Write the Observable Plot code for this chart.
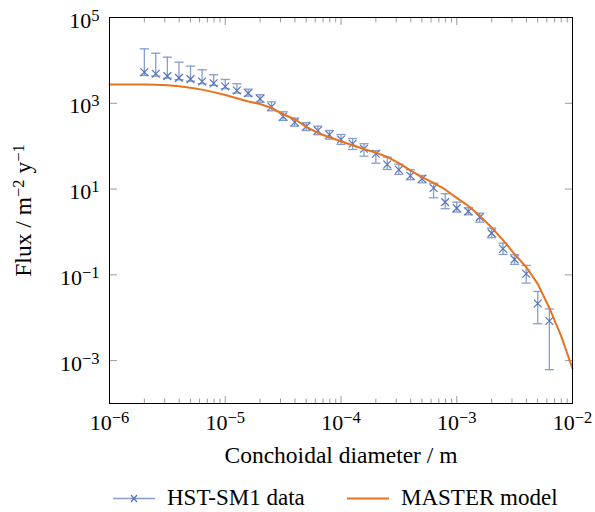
<!DOCTYPE html>
<html>
<head>
<meta charset="utf-8">
<script src="https://cdn.jsdelivr.net/npm/d3@7"></script>
<script src="https://cdn.jsdelivr.net/npm/@observablehq/plot@0.6"></script>
<style>
  body { margin: 0; background: #fff; font-family: "Liberation Serif", serif; }
  #chart { width: 595px; }
  #legend { position: relative; width: 595px; height: 42px; font-size: 23px; color: #000; }
  .lg-item { position: absolute; top: 0; height: 42px; }
  .lg-text { position: absolute; top: 16px; line-height: 23px; white-space: nowrap; }
</style>
</head>
<body>
<div id="chart"></div>
<div id="legend"></div>
<script>
// ---- Data: HST-SM1 measurements ----
const diameters = [2.00e-6, 2.51e-6, 3.16e-6, 3.98e-6, 5.01e-6, 6.31e-6, 7.94e-6,
  1.00e-5, 1.26e-5, 1.58e-5, 2.00e-5, 2.51e-5, 3.16e-5, 3.98e-5, 5.01e-5, 6.31e-5, 7.94e-5,
  1.00e-4, 1.26e-4, 1.58e-4, 2.00e-4, 2.51e-4, 3.16e-4, 3.98e-4, 5.01e-4, 6.31e-4, 7.94e-4,
  1.00e-3, 1.26e-3, 1.58e-3, 2.00e-3, 2.51e-3, 3.16e-3, 3.98e-3, 5.01e-3, 6.31e-3];
const flux = [5310, 4880, 4290, 3910, 3650, 3220, 2940,
  2470, 1990, 1720, 1270, 828, 492, 362, 288, 232, 185,
  143, 114, 86.9, 66.5, 37.4, 28.2, 20.4, 17.4, 10.6, 4.95,
  3.59, 3.01, 2.21, 0.938, 0.406, 0.229, 0.106, 0.0215, 0.00841];
const fluxUpper = [18600, 14700, 11900, 9080, 7330, 6040, 4610,
  3590, 2850, 2130, 1580, 1080, 634, 450, 351, 292, 232,
  187, 151, 114, 78.2, 55.5, 38.0, 28.2, 20.7, 13.7, 7.76,
  4.95, 3.66, 2.74, 1.23, 0.548, 0.294, 0.166, 0.0410, 0.0160];
const fluxLower = [4450, 4290, 3850, 3530, 3270, 2850, 2600,
  2180, 1720, 1470, 1060, 668, 397, 292, 232, 185, 146,
  110, 83.8, 58.5, 40.2, 28.6, 21.9, 16.5, 14.0, 6.27, 3.48,
  2.90, 2.52, 1.69, 0.733, 0.299, 0.175, 0.0641, 0.00724, 0.000614];

// ---- Data: MASTER model ----
const modelDiameters = [1.00e-6, 1.26e-6, 1.58e-6, 2.00e-6, 2.51e-6, 3.16e-6, 3.98e-6, 5.01e-6, 6.31e-6, 7.94e-6,
  1.00e-5, 1.26e-5, 1.58e-5, 2.00e-5, 2.51e-5, 3.16e-5, 3.98e-5, 5.01e-5, 6.31e-5, 7.94e-5,
  1.00e-4, 1.26e-4, 1.58e-4, 2.00e-4, 2.51e-4, 3.16e-4, 3.98e-4, 5.01e-4, 6.31e-4, 7.94e-4,
  1.00e-3, 1.26e-3, 1.58e-3, 2.00e-3, 2.51e-3, 3.16e-3, 3.98e-3, 5.01e-3, 6.31e-3, 7.94e-3, 1.00e-2];
const modelFlux = [2740, 2740, 2740, 2740, 2720, 2630, 2490, 2300, 2080, 1820,
  1560, 1310, 1100, 964, 776, 555, 424, 281, 203, 161,
  130, 105, 86.1, 70.5, 56.0, 40.4, 27.2, 18.9, 13.9, 9.79,
  6.21, 4.04, 2.39, 1.27, 0.644, 0.305, 0.152, 0.0617, 0.0169, 0.00389, 0.000655];

// ---- Ticks ----
const xTickValues = [1e-6, 1e-5, 1e-4, 1e-3, 1e-2];
const xTickLabels = ["10^−6", "10^−5", "10^−4", "10^−3", "10^−2"];
const yTickValues = [1e-3, 1e-1, 1e1, 1e3, 1e5];
const yTickLabels = ["10^−3", "10^−1", "10^1", "10^3", "10^5"];
const xMinorTicks = [];
for (const dec of [1e-6, 1e-5, 1e-4, 1e-3]) for (const m of [2,3,4,5,6,7,8,9]) xMinorTicks.push(m * dec);

const seriesLabels = ["HST-SM1 data", "MASTER model"];
const xLabel = "Conchoidal diameter / m";
const yLabel = "Flux / m^−2 y^−1";

const blueMark = "#5672b9";
const blueBar = "#859dd0";
const orange = "#e8731f";
const tickGrey = "#9a9a9a";

const data = diameters.map((d, i) => ({d, f: flux[i], hi: fluxUpper[i], lo: fluxLower[i]}));
const model = modelDiameters.map((d, i) => ({d, f: modelFlux[i]}));

const capSymbol = {
  draw(ctx, size) { const r = Math.sqrt(size / Math.PI); ctx.moveTo(-r, 0); ctx.lineTo(r, 0); }
};

const xFmt = (v) => xTickLabels[xTickValues.findIndex(t => Math.abs(Math.log10(t) - Math.log10(v)) < 1e-6)];
const yFmt = (v) => yTickLabels[yTickValues.findIndex(t => Math.abs(Math.log10(t) - Math.log10(v)) < 1e-6)];
const blank = () => "";

const plot = Plot.plot({
  width: 595,
  height: 470,
  marginLeft: 109,
  marginRight: 23,
  marginTop: 17,
  marginBottom: 67,
  style: {fontFamily: "'Liberation Serif', serif", fontSize: "22px", background: "white", color: "black"},
  x: {type: "log", domain: [1e-6, 1e-2]},
  y: {type: "log", domain: [1e-4, 1e5]},
  marks: [
    // ticks (inward)
    Plot.axisX({anchor: "bottom", ticks: xTickValues, tickSize: -7, stroke: tickGrey, tickFormat: blank, label: null}),
    Plot.axisX({anchor: "bottom", ticks: xMinorTicks, tickSize: -4.5, stroke: tickGrey, tickFormat: blank, label: null}),
    Plot.axisX({anchor: "top", ticks: xTickValues, tickSize: -7, stroke: tickGrey, tickFormat: blank, label: null}),
    Plot.axisX({anchor: "top", ticks: xMinorTicks, tickSize: -4.5, stroke: tickGrey, tickFormat: blank, label: null}),
    Plot.axisY({anchor: "left", ticks: yTickValues, tickSize: -8, stroke: tickGrey, tickFormat: blank, label: null}),
    Plot.axisY({anchor: "right", ticks: yTickValues, tickSize: -8, stroke: tickGrey, tickFormat: blank, label: null}),
    // labels
    Plot.axisX({anchor: "bottom", ticks: xTickValues, tickSize: 0, tickPadding: 11, tickFormat: xFmt, fontSize: 22,
      label: xLabel, labelAnchor: "center", labelOffset: 59, labelArrow: false}),
    Plot.axisY({anchor: "left", ticks: yTickValues, tickSize: 0, tickPadding: 10, tickFormat: yFmt, dy: 3, fontSize: 22,
      label: yLabel, labelAnchor: "center", labelOffset: 95, labelArrow: false}),
    // data error bars
    Plot.ruleX(data, {x: "d", y1: "lo", y2: "hi", stroke: blueBar, strokeWidth: 1.3}),
    Plot.dot(data, {x: "d", y: "hi", symbol: capSymbol, r: 4.6, stroke: blueBar, strokeWidth: 1.3}),
    Plot.dot(data, {x: "d", y: "lo", symbol: capSymbol, r: 4.6, stroke: blueBar, strokeWidth: 1.3}),
    Plot.dot(data, {x: "d", y: "f", symbol: "times", r: 3.6, stroke: blueMark, strokeWidth: 1.2}),
    // model line
    Plot.line(model, {x: "d", y: "f", stroke: orange, strokeWidth: 2}),
    Plot.frame({stroke: "black", strokeWidth: 1})
  ]
});

// enlarge the two axis titles
plot.querySelectorAll("text").forEach(el => {
  if (el.textContent === xLabel || el.textContent === yLabel) {
    el.style.fontSize = "23.5px";
    el.setAttribute("font-size", "23.5");
  }
});

// superscripts
const NS = "http://www.w3.org/2000/svg";
function supify(el) {
  const s = el.textContent;
  if (!s.includes("^")) return;
  while (el.firstChild) el.removeChild(el.firstChild);
  const re = /\^([−\-]?\d+)/g;
  let last = 0, m, raised = false;
  const addNormal = (txt) => {
    const t = document.createElementNS(NS, "tspan");
    t.textContent = txt;
    if (raised) t.setAttribute("dy", "7");
    el.appendChild(t);
    raised = false;
  };
  while ((m = re.exec(s))) {
    if (m.index > last) addNormal(s.slice(last, m.index));
    const sup = document.createElementNS(NS, "tspan");
    sup.textContent = m[1];
    sup.setAttribute("dy", raised ? "0" : "-7");
    sup.setAttribute("font-size", "16.5");
    el.appendChild(sup);
    raised = true;
    last = re.lastIndex;
  }
  if (last < s.length) addNormal(s.slice(last));
}
plot.querySelectorAll("text").forEach(supify);
document.getElementById("chart").appendChild(plot);

// legend
const legend = document.getElementById("legend");
legend.innerHTML = `
  <svg class="lg-item" style="left:112px" width="44" height="42">
    <line x1="1" y1="28.5" x2="43" y2="28.5" stroke="${blueBar}" stroke-width="1.3"/>
    <path d="M19 25 L25 32 M25 25 L19 32" stroke="${blueMark}" stroke-width="1.2" fill="none"/>
  </svg>
  <div class="lg-text" style="left:167px">${seriesLabels[0]}</div>
  <svg class="lg-item" style="left:346px" width="44" height="42">
    <line x1="1" y1="28.5" x2="43" y2="28.5" stroke="${orange}" stroke-width="2"/>
  </svg>
  <div class="lg-text" style="left:401px">${seriesLabels[1]}</div>
`;
</script>
</body>
</html>
